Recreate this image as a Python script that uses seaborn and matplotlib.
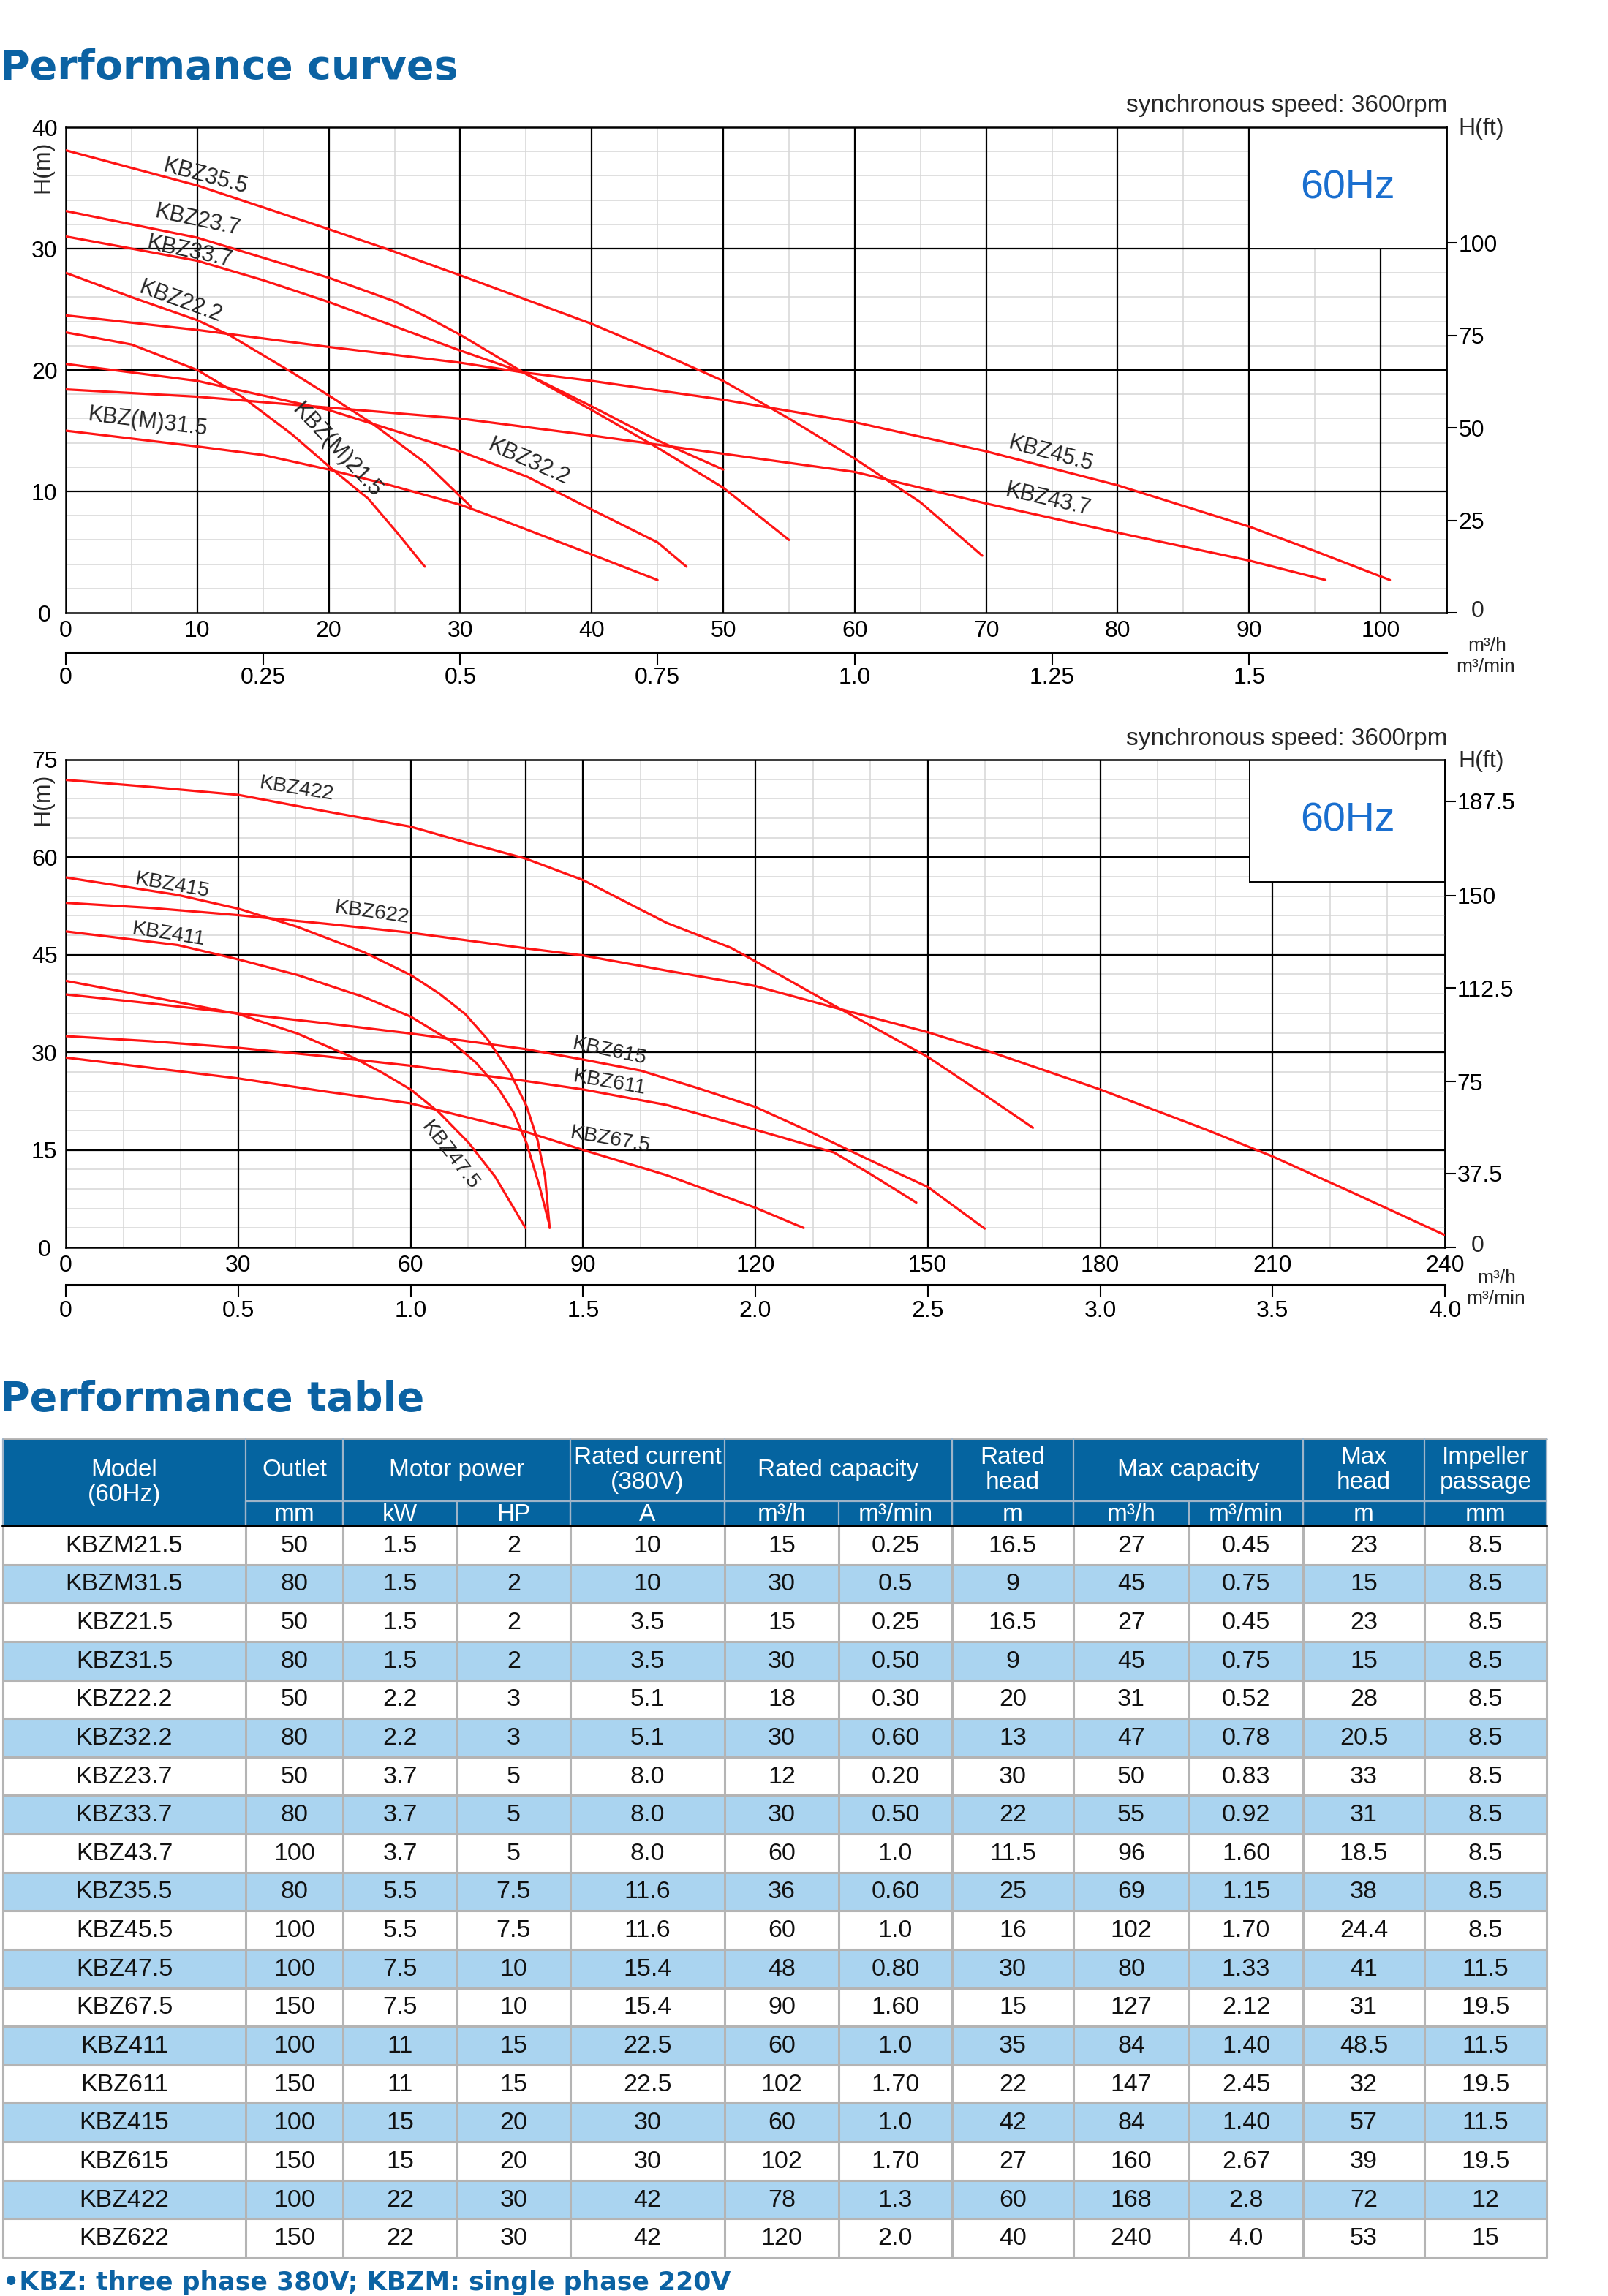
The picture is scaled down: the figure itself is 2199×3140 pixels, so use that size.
import numpy as np
import pandas as pd
import seaborn as sns
import matplotlib
matplotlib.use("Agg")
import matplotlib.pyplot as plt
from matplotlib.patches import Rectangle

sns.set_style("white")
plt.rcParams['font.family'] = ['Liberation Sans', 'DejaVu Sans']

W, H = 2199, 3140
RED = '#ff1414'
TITLE_BLUE = '#0b62a3'
HEAD_BLUE = '#0564a0'
ROW_BLUE = '#aad4f0'
HZ_BLUE = '#1a6fcf'

# ---- chart 1 curves, Q in m3/h, H in m
q_kbz355 = [0, 10, 20, 24.6, 30, 35, 40, 45, 50, 55, 60, 65, 69.7]
h_kbz355 = [38.1, 35.2, 31.6, 29.9, 27.8, 25.8, 23.8, 21.5, 19.1, 16.0, 12.7, 9.1, 4.7]
q_kbz237 = [0, 10, 20, 24.9, 27.4, 30, 34.8, 40, 45, 50]
h_kbz237 = [33.1, 30.9, 27.6, 25.7, 24.4, 22.9, 19.8, 17.0, 14.2, 11.8]
q_kbz337 = [0, 10, 15, 20, 30, 34.8, 40, 45, 50, 55]
h_kbz337 = [31.0, 29.0, 27.4, 25.6, 21.6, 19.8, 16.7, 13.6, 10.3, 6.0]
q_kbz222 = [0, 5, 10, 12.4, 17.2, 20, 23.3, 27.4, 30.8]
h_kbz222 = [28.0, 26.0, 24.1, 22.9, 19.8, 17.9, 15.6, 12.3, 8.75]
q_kbz455 = [0, 10, 20, 30, 34.8, 40, 50, 60, 70, 80, 90, 95.2, 100.7]
h_kbz455 = [24.5, 23.3, 21.9, 20.6, 19.8, 19.1, 17.55, 15.7, 13.3, 10.5, 7.1, 5.0, 2.7]
q_kbzm215 = [0, 5, 10, 13.4, 17.2, 20.4, 23, 25.2, 27.3]
h_kbzm215 = [23.1, 22.1, 20.0, 17.8, 14.7, 11.7, 9.4, 6.6, 3.8]
q_kbz322 = [0, 10, 20, 25, 30, 35.1, 40, 45, 47.2]
h_kbz322 = [20.5, 19.1, 16.7, 15.0, 13.3, 11.2, 8.5, 5.8, 3.8]
q_kbz437 = [0, 10, 20, 30, 40, 50, 60, 70, 80, 90, 95.8]
h_kbz437 = [18.4, 17.8, 16.9, 16.0, 14.6, 13.1, 11.6, 9.0, 6.6, 4.3, 2.7]
q_kbzm315 = [0, 10, 15, 20, 24.7, 30, 33.5, 40, 45]
h_kbzm315 = [15.0, 13.7, 13.0, 11.8, 10.5, 8.9, 7.5, 4.8, 2.7]

# ---- chart 2 curves
q_kbz422 = [0, 15, 30, 45, 60, 70, 80, 90, 104.6, 115.7, 120, 133.7, 150, 160, 168.3]
h_kbz422 = [71.9, 70.8, 69.6, 67.1, 64.7, 62.2, 59.8, 56.5, 49.9, 46.1, 44.0, 37.2, 29.3, 23.4, 18.4]
q_kbz622 = [0, 15, 30, 45, 60, 80, 90, 105, 120, 133.7, 150, 160.5, 180, 198.5, 210, 225, 240]
h_kbz622 = [53.0, 52.2, 51.1, 49.8, 48.4, 46.0, 44.9, 42.5, 40.2, 36.9, 33.1, 30.2, 24.3, 18.1, 14.0, 8.0, 1.9]
q_kbz415 = [0, 19.5, 30, 40.3, 51.9, 60, 64.9, 69.5, 73.4, 77.3, 80.2, 82.1, 83.4, 84.2]
h_kbz415 = [56.9, 54.2, 52.1, 49.3, 45.4, 41.9, 39.1, 35.9, 32.0, 26.9, 21.7, 16.5, 10.9, 3.0]
q_kbz411 = [0, 19.5, 30, 40.3, 51.9, 60, 66.9, 71.4, 75.3, 77.9, 80.2, 82.4, 84.0]
h_kbz411 = [48.6, 46.5, 44.3, 41.9, 38.5, 35.5, 31.8, 28.4, 24.4, 20.8, 16.0, 9.5, 4.0]
q_kbz475 = [0, 15, 30, 40.3, 50, 55, 60, 64.9, 70.1, 74.7, 80]
h_kbz475 = [41.0, 38.5, 35.9, 32.9, 29.2, 26.9, 24.3, 20.8, 16.1, 10.9, 3.0]
q_kbz615 = [0, 15, 30, 45, 60, 80, 90, 100, 110, 120, 130, 140, 150, 159.9]
h_kbz615 = [38.9, 37.5, 36.0, 34.5, 32.9, 30.5, 28.9, 27.2, 24.5, 21.6, 17.6, 13.4, 9.3, 2.9]
q_kbz611 = [0, 15, 30, 45, 60, 80, 90, 104.6, 120, 133.7, 140, 148]
h_kbz611 = [32.5, 31.7, 30.7, 29.4, 27.95, 25.6, 24.3, 21.9, 18.1, 14.6, 11.3, 6.9]
q_kbz675 = [0, 15, 30, 45, 60, 80, 90, 104.6, 115.7, 120, 128.4]
h_kbz675 = [29.2, 27.6, 26.0, 24.0, 22.15, 17.8, 15.0, 11.1, 7.5, 6.1, 3.0]

curves_top = [("KBZ35.5", q_kbz355, h_kbz355), ("KBZ23.7", q_kbz237, h_kbz237),
              ("KBZ33.7", q_kbz337, h_kbz337), ("KBZ22.2", q_kbz222, h_kbz222),
              ("KBZ45.5", q_kbz455, h_kbz455), ("KBZ(M)21.5", q_kbzm215, h_kbzm215),
              ("KBZ32.2", q_kbz322, h_kbz322), ("KBZ43.7", q_kbz437, h_kbz437),
              ("KBZ(M)31.5", q_kbzm315, h_kbzm315)]
curves_bot = [("KBZ422", q_kbz422, h_kbz422), ("KBZ622", q_kbz622, h_kbz622),
              ("KBZ415", q_kbz415, h_kbz415), ("KBZ411", q_kbz411, h_kbz411),
              ("KBZ47.5", q_kbz475, h_kbz475), ("KBZ615", q_kbz615, h_kbz615),
              ("KBZ611", q_kbz611, h_kbz611), ("KBZ67.5", q_kbz675, h_kbz675)]

# curve name labels: text, x, y, rotation
labels_top = [("KBZ35.5", 10.6, 35.9, -15), ("KBZ23.7", 10.0, 32.3, -12),
              ("KBZ33.7", 9.4, 29.7, -12), ("KBZ22.2", 8.75, 25.6, -20),
              ("KBZ(M)31.5", 6.25, 15.7, -7), ("KBZ(M)21.5", 20.6, 13.4, -47),
              ("KBZ32.2", 35.2, 12.4, -24), ("KBZ45.5", 74.9, 13.1, -15),
              ("KBZ43.7", 74.7, 9.3, -13)]
labels_bot = [("KBZ422", 40.2, 70.5, -9), ("KBZ415", 18.5, 55.6, -10),
              ("KBZ622", 53.3, 51.5, -8), ("KBZ411", 17.9, 48.1, -9),
              ("KBZ615", 94.6, 30.1, -12), ("KBZ611", 94.6, 25.3, -10),
              ("KBZ67.5", 94.8, 16.6, -10), ("KBZ47.5", 66.8, 14.1, -52)]

# axis ticks
xticks_top = [0, 10, 20, 30, 40, 50, 60, 70, 80, 90, 100]
yticks_top = [0, 10, 20, 30, 40]
min_ticks_top = [0, 0.25, 0.5, 0.75, 1.0, 1.25, 1.5]
min_labels_top = ["0", "0.25", "0.5", "0.75", "1.0", "1.25", "1.5"]
ft_ticks_top = [0, 25, 50, 75, 100]
ft_labels_top = ["", "25", "50", "75", "100"]      # "0" is set a little further out

xticks_bot = [0, 30, 60, 90, 120, 150, 180, 210, 240]
yticks_bot = [0, 15, 30, 45, 60, 75]
min_ticks_bot = [0, 0.5, 1.0, 1.5, 2.0, 2.5, 3.0, 3.5, 4.0]
min_labels_bot = ["0", "0.5", "1.0", "1.5", "2.0", "2.5", "3.0", "3.5", "4.0"]
ft_labels_bot = ["", "37.5", "75", "112.5", "150", "187.5"]
ft_at_m_bot = [0, 11.4, 25.5, 39.9, 54.1, 68.6]   # where the chart places them

# ---- table
models = ["KBZM21.5", "KBZM31.5", "KBZ21.5", "KBZ31.5", "KBZ22.2", "KBZ32.2", "KBZ23.7",
          "KBZ33.7", "KBZ43.7", "KBZ35.5", "KBZ45.5", "KBZ47.5", "KBZ67.5", "KBZ411",
          "KBZ611", "KBZ415", "KBZ615", "KBZ422", "KBZ622"]
outlet_mm = ["50", "80", "50", "80", "50", "80", "50", "80", "100", "80", "100", "100",
             "150", "100", "150", "100", "150", "100", "150"]
power_kw = ["1.5", "1.5", "1.5", "1.5", "2.2", "2.2", "3.7", "3.7", "3.7", "5.5", "5.5",
            "7.5", "7.5", "11", "11", "15", "15", "22", "22"]
power_hp = ["2", "2", "2", "2", "3", "3", "5", "5", "5", "7.5", "7.5", "10", "10", "15",
            "15", "20", "20", "30", "30"]
current_a = ["10", "10", "3.5", "3.5", "5.1", "5.1", "8.0", "8.0", "8.0", "11.6", "11.6",
             "15.4", "15.4", "22.5", "22.5", "30", "30", "42", "42"]
rated_q_h = ["15", "30", "15", "30", "18", "30", "12", "30", "60", "36", "60", "48", "90",
             "60", "102", "60", "102", "78", "120"]
rated_q_min = ["0.25", "0.5", "0.25", "0.50", "0.30", "0.60", "0.20", "0.50", "1.0", "0.60",
               "1.0", "0.80", "1.60", "1.0", "1.70", "1.0", "1.70", "1.3", "2.0"]
rated_head = ["16.5", "9", "16.5", "9", "20", "13", "30", "22", "11.5", "25", "16", "30",
              "15", "35", "22", "42", "27", "60", "40"]
max_q_h = ["27", "45", "27", "45", "31", "47", "50", "55", "96", "69", "102", "80", "127",
           "84", "147", "84", "160", "168", "240"]
max_q_min = ["0.45", "0.75", "0.45", "0.75", "0.52", "0.78", "0.83", "0.92", "1.60", "1.15",
             "1.70", "1.33", "2.12", "1.40", "2.45", "1.40", "2.67", "2.8", "4.0"]
max_head = ["23", "15", "23", "15", "28", "20.5", "33", "31", "18.5", "38", "24.4", "41",
            "31", "48.5", "32", "57", "39", "72", "53"]
impeller_mm = ["8.5", "8.5", "8.5", "8.5", "8.5", "8.5", "8.5", "8.5", "8.5", "8.5", "8.5",
               "11.5", "19.5", "11.5", "19.5", "11.5", "19.5", "12", "15"]

groups = [("Model\n(60Hz)", 0, 1), ("Outlet", 1, 2), ("Motor power", 2, 4),
          ("Rated current\n(380V)", 4, 5), ("Rated capacity", 5, 7), ("Rated\nhead", 7, 8),
          ("Max capacity", 8, 10), ("Max\nhead", 10, 11), ("Impeller\npassage", 11, 12)]
units = ["", "mm", "kW", "HP", "A", "m³/h", "m³/min", "m", "m³/h", "m³/min", "m", "mm"]


def to_frame(curves):
    rows = []
    for name, q, h in curves:
        rows += [{"model": name, "q": a, "h": b} for a, b in zip(q, h)]
    return pd.DataFrame(rows)


def draw_chart(ax, curves, labels, xmax, ymax, minor_dx, minor_dy, major_x, major_y,
               xticks, yticks, box, label_size):
    ax.set_xlim(0, xmax)
    ax.set_ylim(0, ymax)
    for v in np.arange(minor_dx, xmax, minor_dx):
        ax.axvline(v, color='#d6d6d6', lw=1.1, zorder=0.8)
    for v in np.arange(minor_dy, ymax, minor_dy):
        ax.axhline(v, color='#d6d6d6', lw=1.1, zorder=0.8)
    for v in major_x:
        ax.axvline(v, color='black', lw=1.6, zorder=1)
    for v in major_y:
        ax.axhline(v, color='black', lw=1.6, zorder=1)
    ax.add_patch(Rectangle((box[0], box[1]), xmax - box[0], ymax - box[1],
                           facecolor='white', edgecolor='black', lw=1.4, zorder=2))
    ax.text((box[0] + xmax) / 2, (box[1] + ymax) / 2, "60Hz", color=HZ_BLUE,
            fontsize=40, ha='center', va='center', zorder=4)

    sns.lineplot(data=to_frame(curves), x='q', y='h', units='model', estimator=None,
                 sort=False, color=RED, lw=2.3, ax=ax, legend=False, zorder=3)
    for txt, x, y, rot in labels:
        ax.text(x, y, txt, fontsize=label_size, rotation=rot, rotation_mode='anchor',
                ha='center', va='center', zorder=4)

    ax.set_xlabel('')
    ax.set_ylabel('')
    ax.set_xticks(xticks)
    ax.set_yticks(yticks)
    ax.tick_params(axis='both', length=0, labelsize=23, colors='black')
    ax.tick_params(axis='x', pad=7)
    ax.tick_params(axis='y', pad=21)
    for lab in ax.get_yticklabels():
        lab.set_ha('center')
    for s in ax.spines.values():
        s.set_color('black')
        s.set_linewidth(1.8)


fig = plt.figure(figsize=(W / 100, H / 100), dpi=100)
ax_t = fig.add_axes([0, 0, 1, 1])
ax_t.set_xlim(0, W)
ax_t.set_ylim(H, 0)
ax_t.axis('off')

# ---------------- chart 1
ax1 = fig.add_axes([90 / W, 1 - 838 / H, (1978 - 90) / W, (838 - 174) / H])
draw_chart(ax1, curves_top, labels_top, 105, 40, 5, 2, np.arange(10, 101, 10),
           [10, 20, 30], xticks_top, yticks_top, (90, 30), 22)
sec1 = ax1.secondary_xaxis(-0.0806, functions=(lambda q: q / 60, lambda v: v * 60))
sec1.set_xticks(min_ticks_top, labels=min_labels_top)
ft1 = ax1.secondary_yaxis('right', functions=(lambda m: m / 0.3048, lambda f: f * 0.3048))
ft1.set_yticks(ft_ticks_top, labels=ft_labels_top)

# ---------------- chart 2
ax2 = fig.add_axes([90 / W, 1 - 1706 / H, (1976 - 90) / W, (1706 - 1039) / H])
draw_chart(ax2, curves_bot, labels_bot, 240, 75, 10, 3,
           [30, 60, 80, 90, 120, 150, 180, 210], [15, 30, 45, 60],
           xticks_bot, yticks_bot, (206, 56.2), 20.5)
sec2 = ax2.secondary_xaxis(-0.076, functions=(lambda q: q / 60, lambda v: v * 60))
sec2.set_xticks(min_ticks_bot, labels=min_labels_bot)
ft2 = ax2.secondary_yaxis('right')
ft2.set_yticks(ft_at_m_bot, labels=ft_labels_bot)

for sec in (sec1, sec2):
    sec.tick_params(length=12, width=1.5, direction='out', labelsize=23, pad=3, colors='black')
    sec.spines['bottom'].set_linewidth(2.2)
    sec.spines['bottom'].set_color('black')
for ft in (ft1, ft2):
    ft.tick_params(length=10.8, width=1.5, direction='out', labelsize=23, pad=1, colors='black')
    ft.spines['right'].set_linewidth(1.8)
    ft.spines['right'].set_color('black')

# chart side texts
for top, bottom, ytext in ((174, 838, 145), (1039, 1706, 1011)):
    ax_t.text(1979, ytext, "synchronous speed: 3600rpm", fontsize=24, ha='right', va='center')
    ax_t.text(1994, top + 2, "H(ft)", fontsize=23, ha='left', va='center')
    ax_t.text(58, top + 54, "H(m)", fontsize=23, rotation=90, ha='center', va='center')
    ax_t.text(2021, bottom - 2, "0", fontsize=23, ha='center', va='center')
ax_t.text(2034, 883, "m³/h", fontsize=19, ha='center', va='center')
ax_t.text(2032, 912, "m³/min", fontsize=19, ha='center', va='center')
ax_t.text(2047, 1748, "m³/h", fontsize=19, ha='center', va='center')
ax_t.text(2046, 1776, "m³/min", fontsize=19, ha='center', va='center')

# titles
ax_t.text(0, 93, "Performance curves", fontsize=40, fontweight='bold', color=TITLE_BLUE,
          family='DejaVu Sans', ha='left', va='center')
ax_t.text(0, 1914, "Performance table", fontsize=40, fontweight='bold', color=TITLE_BLUE,
          family='DejaVu Sans', ha='left', va='center')

# ---------------- table
col_edges = [4, 336, 469, 625, 780, 991, 1147, 1302, 1468, 1626, 1782, 1948, 2115]
y_head, y_sub, y_data = 1968, 2053, 2087
row_h = (3087 - y_data) / len(models)
x0, x1 = col_edges[0], col_edges[-1]
columns = [models, outlet_mm, power_kw, power_hp, current_a, rated_q_h, rated_q_min,
           rated_head, max_q_h, max_q_min, max_head, impeller_mm]

ax_t.add_patch(Rectangle((x0, y_head), x1 - x0, y_data - y_head, facecolor=HEAD_BLUE,
                         edgecolor='none'))
sep = '#9fb4c8'
ax_t.plot([x0, x1], [y_head, y_head], color='#b0b0b0', lw=2)
ax_t.plot([col_edges[1], x1], [y_sub, y_sub], color=sep, lw=1.6)
for label, a, b in groups:
    cx = (col_edges[a] + col_edges[b]) / 2
    if a == 0:
        ax_t.text(cx, (y_head + y_data) / 2, label, color='white', fontsize=24,
                  ha='center', va='center', linespacing=1.1)
    else:
        ax_t.text(cx, (y_head + y_sub) / 2, label, color='white', fontsize=24,
                  ha='center', va='center', linespacing=1.1)
    ax_t.plot([col_edges[b], col_edges[b]], [y_head, y_data], color=sep, lw=1.6)
ax_t.plot([x0, x0], [y_head, y_data], color=sep, lw=1.6)
for j in range(1, len(units)):
    ax_t.text((col_edges[j] + col_edges[j + 1]) / 2, (y_sub + y_data) / 2 + 1, units[j],
              color='white', fontsize=24, ha='center', va='center')
    ax_t.plot([col_edges[j], col_edges[j]], [y_sub, y_data], color=sep, lw=1.6)

for i in range(len(models)):
    top = y_data + i * row_h
    ax_t.add_patch(Rectangle((x0, top), x1 - x0, row_h,
                             facecolor='white' if i % 2 == 0 else ROW_BLUE, edgecolor='none'))
    for j, col in enumerate(columns):
        ax_t.text((col_edges[j] + col_edges[j + 1]) / 2, top + row_h / 2 + 1, col[i],
                  fontsize=24.5, ha='center', va='center', color='#111111')
grid_c = '#b4b4b4'
for i in range(1, len(models) + 1):
    y = y_data + i * row_h
    ax_t.plot([x0, x1], [y, y], color=grid_c, lw=2.2)
for x in col_edges:
    ax_t.plot([x, x], [y_data, y_data + len(models) * row_h], color=grid_c, lw=2.2)
ax_t.plot([x0, x1], [y_data, y_data], color='black', lw=2.8)

ax_t.text(4, 3122, "•KBZ: three phase 380V; KBZM: single phase 220V", fontsize=25,
          fontweight='bold', color=TITLE_BLUE, family='DejaVu Sans', ha='left', va='center')

fig.savefig("out.png", dpi=100)
